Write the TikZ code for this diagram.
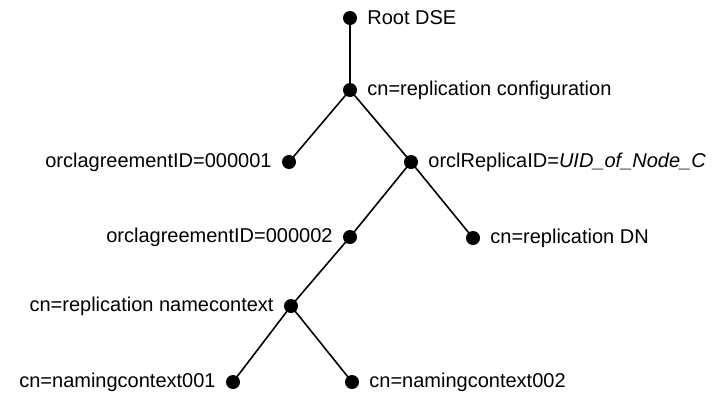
\documentclass[tikz,border=0pt]{standalone}
\usepackage{fontspec}
\setmainfont{Liberation Sans}
\begin{document}
\begin{tikzpicture}[x=1pt,y=-1pt,
  dot/.style={circle,fill=black,inner sep=0pt,minimum size=14pt},
  lbl/.style={inner sep=0pt,font=\fontsize{20}{23}\selectfont},
  edge/.style={line width=1.6pt},
  label distance=10pt]
\useasboundingbox (0,0) rectangle (712,394);
\node[dot,label={[lbl]right:Root DSE}] (root) at (350,18) {};
\node[dot,label={[lbl]right:cn=replication configuration}] (conf) at (350,90) {};
\node[dot,label={[lbl]left:orclagreementID=000001}] (a1) at (289,162) {};
\node[dot,label={[lbl]right:orclReplicaID=\textit{UID\_of\_Node\_C}}] (rep) at (411,162) {};
\node[dot,label={[lbl]left:orclagreementID=000002}] (a2) at (350,237) {};
\node[dot,label={[lbl]right:cn=replication DN}] (dn) at (473,238) {};
\node[dot,label={[lbl]left:cn=replication namecontext}] (nc) at (291,306) {};
\node[dot,label={[lbl]left:cn=namingcontext001}] (n1) at (233,382) {};
\node[dot,label={[lbl]right:cn=namingcontext002}] (n2) at (352,382) {};
\draw[edge] (root.center) -- (conf.center);
\draw[edge] (conf.center) -- (a1.center);
\draw[edge] (conf.center) -- (rep.center);
\draw[edge] (rep.center) -- (a2.center);
\draw[edge] (rep.center) -- (dn.center);
\draw[edge] (a2.center) -- (nc.center);
\draw[edge] (nc.center) -- (n1.center);
\draw[edge] (nc.center) -- (n2.center);
\end{tikzpicture}
\end{document}
